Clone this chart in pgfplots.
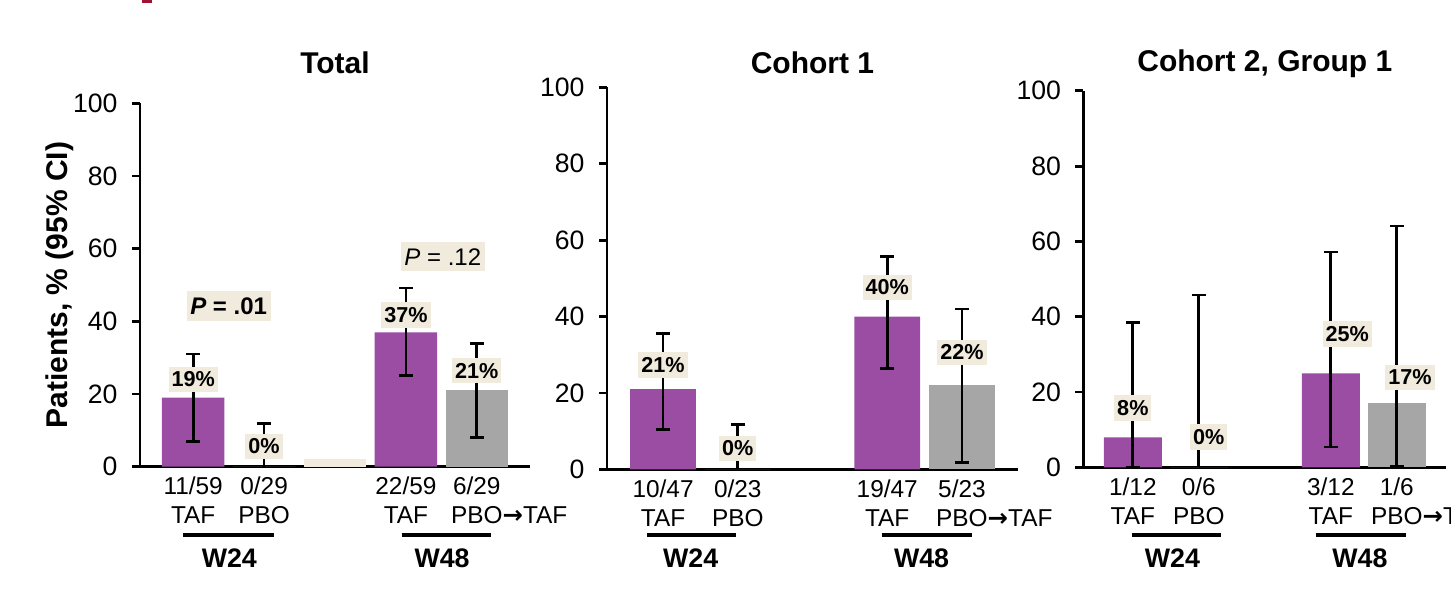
\documentclass[border=0pt]{standalone}
\usepackage{fontspec}
\setmainfont{Liberation Sans}
\newfontfamily\arrowfont{DejaVu Sans}
\usepackage{pgfplots}
\pgfplotsset{compat=1.18}
\definecolor{taf}{RGB}{155,76,163}
\definecolor{pbo}{RGB}{166,166,166}
\definecolor{beige}{RGB}{240,235,221}
\definecolor{deco}{RGB}{160,20,50}
\newcommand{\arr}{{\arrowfont\bfseries →}}
\pgfplotsset{
 panel/.style={
  scale only axis, clip=false,
  axis x line=bottom, axis y line=left,
  axis line style={-, line width=1.4pt, black},
  ymin=0, ymax=100, ytick={0,20,40,60,80,100},
  xmin=-0.75, xmax=4.75, xtick={0,1,3,4},
  tick align=outside, major tick length=4pt,
  y tick style={line width=1.4pt, black},
  x tick style={draw=none},
  /pgf/number format/assume math mode=true,
  yticklabel style={font=\fontsize{13.3}{15}\selectfont, xshift=-3.7pt},
  xticklabel style={font=\fontsize{12.2}{14.75}\selectfont, align=center, anchor=north, yshift=2.5pt},
  title style={font=\bfseries\fontsize{15}{17}\selectfont, at={(0.5,1)}, anchor=center},
  ybar, bar width=0.88, bar shift=0,
 },
 errb/.style={error bars/.cd, y dir=both, y explicit,
   error bar style={line width=1.4pt, black},
   error mark options={rotate=90, line width=1.4pt, mark size=3.4pt, black}},
 errbp/.style={error bars/.cd, y dir=plus, y explicit,
   error bar style={line width=1.4pt, black},
   error mark options={rotate=90, line width=1.4pt, mark size=3.4pt, black}},
}
\tikzset{
 lbl/.style={fill=beige, font=\bfseries\fontsize{10.8}{12}\selectfont, inner xsep=1.5pt, inner ysep=2.5pt},
 plbl/.style={fill=beige, font=\fontsize{12}{14}\selectfont, inner xsep=1.8pt, inner ysep=3.2pt},
 wlbl/.style={font=\bfseries\fontsize{13.4}{15}\selectfont},
 wline/.style={line width=1.75pt},
}
\begin{document}
\begin{tikzpicture}
\useasboundingbox (0pt,0pt) rectangle (725.5pt,301pt);
\clip (0pt,0pt) rectangle (725.5pt,301pt);
\fill[deco] (71pt,299.5pt) rectangle (76pt,301pt);

% ---------- Total ----------
\begin{axis}[panel, at={(70pt,67.65pt)}, anchor=south west, width=195pt, height=181.65pt,
  title={Total}, title style={yshift=14.5pt},
  ylabel={\bfseries Patients, \% (95\% CI)},
  ylabel style={font=\bfseries\fontsize{15}{17}\selectfont, at={(rel axis cs:-0.205,0.5)}, anchor=center},
  xticklabels={{11/59\\TAF},{0/29\\PBO},{22/59\\TAF},{6/29\\PBO\rlap{\arr TAF}}}]
\addplot[fill=beige, draw=none] coordinates {(2,2)};
\addplot[fill=taf, draw=none, errb] coordinates {(0,19) += (0,12) -= (0,12) (3,37) += (0,12.2) -= (0,12)};
\addplot[fill=pbo, draw=none, errb] coordinates {(4,21) += (0,13) -= (0,13)};
\addplot[fill=pbo, draw=none, errbp] coordinates {(1,0) += (0,11.9) -= (0,0)};
\node[lbl] at (axis cs:0,24) {19\%};
\node[lbl] at (axis cs:1,5.6) {0\%};
\node[lbl] at (axis cs:3,41.8) {37\%};
\node[lbl] at (axis cs:4,26.4) {21\%};
\node[plbl, font=\bfseries\fontsize{12}{14}\selectfont] at (axis cs:0.5,44.3) {\textit{P} = .01};
\node[plbl] at (axis cs:3.52,57.8) {\textit{P} = .12};
\draw[wline] ([yshift=-34.15pt]axis cs:-0.14,0) -- ([yshift=-34.15pt]axis cs:1.14,0);
\draw[wline] ([yshift=-34.15pt]axis cs:2.94,0) -- ([yshift=-34.15pt]axis cs:4.2,0);
\node[wlbl] at ([yshift=-45.65pt]axis cs:0.51,0) {W24};
\node[wlbl] at ([yshift=-45.65pt]axis cs:3.51,0) {W48};
\end{axis}

% ---------- Cohort 1 ----------
\begin{axis}[panel, at={(303.5pt,66.35pt)}, anchor=south west, width=205.5pt, height=190.95pt,
  title={Cohort 1}, title style={yshift=6.5pt},
  xticklabels={{10/47\\TAF},{0/23\\PBO},{19/47\\TAF},{5/23\\PBO\rlap{\arr TAF}}}]
\addplot[fill=taf, draw=none, errb] coordinates {(0,21) += (0,14.6) -= (0,10.5) (3,40) += (0,15.7) -= (0,13.7)};
\addplot[fill=pbo, draw=none, errb] coordinates {(4,22) += (0,20) -= (0,20.2)};
\addplot[fill=pbo, draw=none, errbp] coordinates {(1,0) += (0,11.8) -= (0,0)};
\node[lbl] at (axis cs:0,27.3) {21\%};
\node[lbl] at (axis cs:1,5.5) {0\%};
\node[lbl] at (axis cs:3,47.6) {40\%};
\node[lbl] at (axis cs:4,30.6) {22\%};
\draw[wline] ([yshift=-32.85pt]axis cs:-0.21,0) -- ([yshift=-32.85pt]axis cs:0.97,0);
\draw[wline] ([yshift=-32.85pt]axis cs:2.93,0) -- ([yshift=-32.85pt]axis cs:4.13,0);
\node[wlbl] at ([yshift=-44.35pt]axis cs:0.37,0) {W24};
\node[wlbl] at ([yshift=-44.35pt]axis cs:3.46,0) {W48};
\end{axis}

% ---------- Cohort 2, Group 1 ----------
\begin{axis}[panel, at={(541.67pt,67.3pt)}, anchor=south west, width=181.5pt, height=188.3pt,
  title={Cohort 2, Group 1}, title style={yshift=7.75pt},
  xticklabels={{1/12\\TAF},{0/6\\PBO},{3/12\\TAF},{1/6\\PBO\rlap{\arr TAF}}}]
\addplot[fill=taf, draw=none, errb] coordinates {(0,8) += (0,30.4) -= (0,8) (3,25) += (0,32.2) -= (0,19.6)};
\addplot[fill=pbo, draw=none, errb] coordinates {(4,17) += (0,47.1) -= (0,16.8)};
\addplot[fill=pbo, draw=none, errbp] coordinates {(1,0) += (0,45.8) -= (0,0)};
\node[lbl] at (axis cs:0,15.8) {8\%};
\node[lbl] at (axis cs:1.15,8.1) {0\%};
\node[lbl] at (axis cs:3.25,35.4) {25\%};
\node[lbl] at (axis cs:4.2,23.9) {17\%};
\draw[wline] ([yshift=-33.8pt]axis cs:-0.02,0) -- ([yshift=-33.8pt]axis cs:1.33,0);
\draw[wline] ([yshift=-33.8pt]axis cs:2.77,0) -- ([yshift=-33.8pt]axis cs:4.14,0);
\node[wlbl] at ([yshift=-45.3pt]axis cs:0.6,0) {W24};
\node[wlbl] at ([yshift=-45.3pt]axis cs:3.44,0) {W48};
\end{axis}
\end{tikzpicture}
\end{document}
